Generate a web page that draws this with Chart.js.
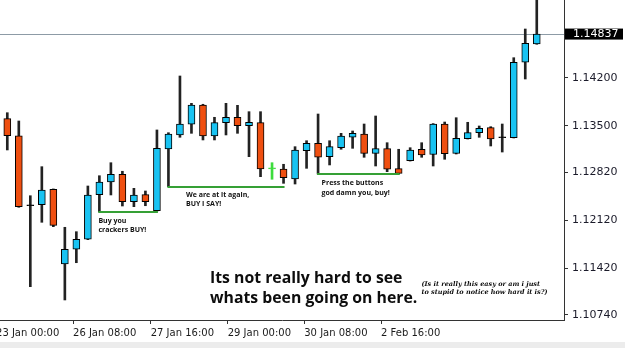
<!DOCTYPE html>
<html>
<head>
<meta charset="utf-8">
<script src="https://cdn.jsdelivr.net/npm/chart.js@4.4.1/dist/chart.umd.min.js"></script>
<style>
  html, body { margin: 0; padding: 0; }
  body { width: 625px; height: 348px; overflow: hidden;
         background: linear-gradient(#fff 0, #fff 342px, #ececec 342px); }
</style>
</head>
<body>
<canvas id="eurusd" width="625" height="348"></canvas>
<script>
// EURUSD candles, oldest first
const opens = [
  1.13602, 1.13353, 1.12337, 1.12346, 1.12571, 1.11480, 1.11695, 1.11841, 1.12492, 1.12677,
  1.12790, 1.12390, 1.12492, 1.12258, 1.13159, 1.13364, 1.13520, 1.13802, 1.13349, 1.13543,
  1.13622, 1.13499, 1.13543, 1.12877, 1.12867, 1.12721, 1.13134, 1.13242, 1.13047, 1.13178,
  1.13330, 1.13378, 1.13096, 1.13164, 1.12872, 1.12988, 1.13155, 1.13079, 1.13524, 1.13096,
  1.13310, 1.13397, 1.13470, 1.13330, 1.13324, 1.14425, 1.14692
];
const highs = [
  1.13689, 1.13568, 1.12477, 1.12901, 1.12576, 1.12016, 1.11952, 1.12619, 1.12769, 1.12959,
  1.12834, 1.12585, 1.12546, 1.13437, 1.13397, 1.14225, 1.13826, 1.13812, 1.13622, 1.13826,
  1.13797, 1.13704, 1.13704, 1.12959, 1.12936, 1.13193, 1.13280, 1.13670, 1.13280, 1.13388,
  1.13422, 1.13524, 1.13641, 1.13251, 1.13155, 1.13178, 1.13251, 1.13530, 1.13553, 1.13616,
  1.13549, 1.13495, 1.13485, 1.13524, 1.14492, 1.14911, 1.15460
];
const lows = [
  1.13145, 1.12308, 1.11149, 1.12089, 1.12025, 1.10955, 1.11499, 1.11835, 1.12239, 1.12488,
  1.12327, 1.12317, 1.12331, 1.12252, 1.12609, 1.13330, 1.13388, 1.13291, 1.13291, 1.13364,
  1.13388, 1.13047, 1.12755, 1.12717, 1.12658, 1.12648, 1.12877, 1.12794, 1.12926, 1.13155,
  1.13169, 1.13038, 1.12911, 1.12828, 1.12794, 1.12983, 1.13038, 1.12911, 1.13009, 1.13086,
  1.13305, 1.13330, 1.13203, 1.13115, 1.13320, 1.14181, 1.14688
];
const closes = [
  1.13353, 1.12317, 1.12337, 1.12561, 1.12045, 1.11695, 1.11841, 1.12488, 1.12677, 1.12790,
  1.12390, 1.12488, 1.12390, 1.13169, 1.13378, 1.13524, 1.13802, 1.13349, 1.13543, 1.13622,
  1.13499, 1.13549, 1.12867, 1.12877, 1.12740, 1.13145, 1.13242, 1.13038, 1.13193, 1.13349,
  1.13388, 1.13096, 1.13164, 1.12863, 1.12804, 1.13145, 1.13072, 1.13524, 1.13091, 1.13315,
  1.13397, 1.13461, 1.13305, 1.13330, 1.14425, 1.14702, 1.14837
];

const priceTicks = [1.10740, 1.11420, 1.12120, 1.12820, 1.13500, 1.14200];
const timeLabels = ['23 Jan 00:00', '26 Jan 08:00', '27 Jan 16:00', '29 Jan 00:00', '30 Jan 08:00', '2 Feb 16:00'];
const timeLabelAt = [-0.98, 5.71, 12.46, 19.15, 25.8, 32.47]; // in bar index units

// the green "+" the poster drew on
const markedCandle = 23;
// green support lines: from bar, to bar, at the low of the first bar
const supportLines = [[8, 13], [14, 24], [27, 34]];
const notes = [
  ['Buy you', 'crackers BUY!'],
  ['We are at it again,', 'BUY I SAY!'],
  ['Press the buttons', 'god damn you, buy!']
];
const headline = ['Its not really hard to see', 'whats been going on here.'];
const aside = ['(Is it really this easy or am i just', 'to stupid to notice how hard it is?)'];

const BULL = '#19c3f2';
const BEAR = '#ef4f10';
const MARK = '#3ddc3d';
const LINE_GREEN = '#35a035';

const idx = opens.map((_, i) => i);
const bodies = idx.map(i => {
  const o = opens[i], c = closes[i];
  if (o === c) return { x: i, y: [o - 0.00007, o + 0.00007] };
  return { x: i, y: [Math.min(o, c), Math.max(o, c)] };
});
const wicks = idx.map(i => ({ x: i, y: [lows[i], highs[i]] }));
const bodyFill = idx.map(i => {
  if (i === markedCandle) return MARK;
  if (closes[i] > opens[i]) return BULL;
  if (closes[i] < opens[i]) return BEAR;
  return '#000';
});
const bodyEdge = idx.map(i => i === markedCandle ? MARK : '#000');
const wickColor = idx.map(i => i === markedCandle ? MARK : '#222');

const overlay = {
  id: 'overlay',
  beforeDatasetsDraw(chart) {
    const { ctx, chartArea, scales: { y } } = chart;
    const py = Math.round(y.getPixelForValue(closes[closes.length - 1])) + 0.5;
    ctx.save();
    ctx.strokeStyle = '#8d9ba6';
    ctx.lineWidth = 1;
    ctx.beginPath();
    ctx.moveTo(chartArea.left, py);
    ctx.lineTo(chartArea.right, py);
    ctx.stroke();
    ctx.restore();
  },
  afterDraw(chart) {
    const { ctx, chartArea, scales: { x, y } } = chart;
    ctx.save();

    // current price box
    const last = closes[closes.length - 1];
    const py = y.getPixelForValue(last);
    ctx.fillStyle = '#000';
    ctx.fillRect(chartArea.right + 1, py - 5.5, 58, 11);
    ctx.fillStyle = '#fff';
    ctx.font = '11px "DejaVu Sans"';
    ctx.textBaseline = 'middle';
    ctx.fillText(last.toFixed(5), chartArea.right + 9, py);

    // support lines + notes
    ctx.strokeStyle = LINE_GREEN;
    ctx.lineWidth = 2;
    ctx.fillStyle = '#111';
    ctx.font = 'bold 7px "Open Sans"';
    const noteShift = [[0, 9], [18.5, 7.5], [4.5, 9.3]];
    supportLines.forEach(([a, b], k) => {
      const ly = Math.round(y.getPixelForValue(lows[a]));
      const x0 = x.getPixelForValue(a) - 1;
      const x1 = x.getPixelForValue(b) + 1;
      ctx.beginPath();
      ctx.moveTo(x0, ly);
      ctx.lineTo(x1, ly);
      ctx.stroke();
      notes[k].forEach((t, j) => {
        ctx.fillText(t, x0 + noteShift[k][0], ly + noteShift[k][1] + j * 9.3);
      });
    });

    // the rant
    ctx.textBaseline = 'alphabetic';
    ctx.font = 'bold 15.8px "Open Sans"';
    ctx.fillStyle = '#0d0d0d';
    ctx.fillText(headline[0], 210, 282.5);
    ctx.fillText(headline[1], 210, 302.5);
    ctx.font = 'italic bold 6.5px "DejaVu Serif"';
    ctx.fillText(aside[0], 421.5, 286);
    ctx.fillText(aside[1], 421.5, 293.5);

    ctx.restore();
  }
};

new Chart(document.getElementById('eurusd'), {
  type: 'bar',
  data: {
    datasets: [
      {
        data: bodies,
        backgroundColor: bodyFill,
        borderColor: bodyEdge,
        borderWidth: 1,
        borderSkipped: false,
        barThickness: 7,
        grouped: false
      },
      {
        data: wicks,
        backgroundColor: wickColor,
        borderWidth: 0,
        barThickness: 2,
        grouped: false
      }
    ]
  },
  options: {
    responsive: false,
    animation: false,
    layout: { padding: 0 },
    plugins: { legend: { display: false }, tooltip: { enabled: false }, title: { display: false } },
    scales: {
      x: {
        type: 'linear',
        min: -0.634,
        max: 48.366,
        offset: false,
        grid: { display: true, drawOnChartArea: false, offset: false, tickLength: 4, color: '#333' },
        border: { display: true, color: '#333', width: 1 },
        afterBuildTicks(scale) {
          scale.ticks = timeLabelAt.map(v => ({ value: v }));
        },
        afterFit(scale) {
          scale.height = 28;
          scale.paddingLeft = 0;
          scale.paddingRight = 0;
        },
        ticks: {
          autoSkip: false,
          maxRotation: 0,
          align: 'start',
          padding: 3,
          color: '#1a1a1a',
          font: { family: 'DejaVu Sans', size: 10 },
          callback: (v, i) => timeLabels[i]
        }
      },
      y: {
        type: 'linear',
        position: 'right',
        min: 1.106626,
        max: 1.153344,
        grid: { display: true, drawOnChartArea: false, tickLength: 4, color: '#333' },
        border: { display: true, color: '#333', width: 1 },
        afterBuildTicks(scale) {
          scale.ticks = priceTicks.map(v => ({ value: v }));
        },
        afterFit(scale) {
          scale.width = 61;
          scale.paddingTop = 0;
          scale.paddingBottom = 0;
        },
        ticks: {
          padding: 4,
          color: '#1b1b2a',
          font: { family: 'DejaVu Sans', size: 11 },
          callback: v => v.toFixed(5)
        }
      }
    }
  },
  plugins: [overlay]
});
</script>
</body>
</html>
